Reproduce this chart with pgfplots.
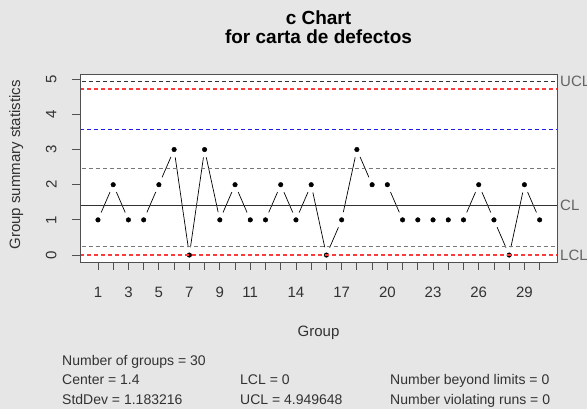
\documentclass[border=0pt]{standalone}
\usepackage{pgfplots}
\usepackage{pgfplotstable}
\pgfplotsset{compat=1.18}
\usepackage{fontspec}
\setmainfont{Liberation Sans}
\definecolor{bg}{RGB}{230,230,230}
\definecolor{boxc}{RGB}{80,80,80}
\definecolor{lblc}{RGB}{100,100,100}
\definecolor{grayl}{RGB}{120,120,120}
\definecolor{darkl}{RGB}{50,50,50}
\definecolor{redl}{RGB}{250,60,60}
\definecolor{bluel}{RGB}{30,30,230}

\pgfplotstableread{
g c
1 1
2 2
3 1
4 1
5 2
6 3
7 0
8 3
9 1
10 2
11 1
12 1
13 2
14 1
15 2
16 0
17 1
18 3
19 2
20 2
21 1
22 1
23 1
24 1
25 1
26 2
27 1
28 0
29 2
30 1
}\cdata

\pgfplotsset{overlay axis/.style={
  at={(80.3bp,147bp)}, anchor=south west,
  scale only axis, width=477bp, height=188bp,
  xmin=-0.16, xmax=31.16, ymin=-0.198, ymax=5.148, hide axis}}

\begin{document}
\begin{tikzpicture}[x=1bp,y=1bp]
\fill[bg] (0,0) rectangle (587,409);
\useasboundingbox (0,0) rectangle (587,409);
\begin{axis}[
  at={(80.3bp,147bp)}, anchor=south west,
  scale only axis, width=477bp, height=188bp,
  xmin=-0.16, xmax=31.16, ymin=-0.198, ymax=5.148,
  axis background/.style={fill=white},
  axis line style={boxc, line width=0.8bp},
  tick style={boxc, line width=0.8bp},
  xtick pos=bottom, ytick pos=left,
  tick align=outside, major tick length=8bp,
  xtick={1,...,30},
  xticklabels={1,,3,,5,,7,,9,,11,,,14,,,17,,,20,,,23,,,26,,,29,},
  ytick={0,...,5},
  /pgf/number format/assume math mode=true,
  xticklabel style={font=\fontsize{15bp}{15bp}\selectfont, text=darkl, anchor=center, yshift=-22bp},
  yticklabel style={font=\fontsize{15bp}{15bp}\selectfont, text=darkl, rotate=90, anchor=center, yshift=21bp},
]
% connecting line
\addplot[black, line width=0.7bp] table[x=g, y=c] {\cdata};
% gaps around points (as in R type="b")
\addplot[white, only marks, mark=*, mark size=7.8bp, mark options={fill=white, draw=white}] table[x=g, y=c] {\cdata};
% reference lines
\addplot[darkl, line width=0.9bp, dash pattern=on 4bp off 3bp] coordinates {(-1,4.949648) (32,4.949648)};
\addplot[grayl, line width=0.9bp, dash pattern=on 4bp off 3bp] coordinates {(-1,2.47) (32,2.47)};
\addplot[grayl, line width=0.9bp, dash pattern=on 4bp off 3bp] coordinates {(-1,0.24) (32,0.24)};
\addplot[darkl, line width=0.8bp] coordinates {(-1,1.4) (32,1.4)};
% points
\addplot[black, only marks, mark=*, mark size=2.3bp, mark options={fill=black, draw=black}] table[x=g, y=c] {\cdata};
\end{axis}
% coloured reference lines, each in its own overlay axis
\begin{axis}[overlay axis]
\addplot[redl, line width=1.1bp, dash pattern=on 4bp off 3bp] coordinates {(-0.16,4.72) (31.16,4.72)};
\end{axis}
\begin{axis}[overlay axis]
\addplot[bluel, line width=1.1bp, dash pattern=on 4bp off 3bp] coordinates {(-0.16,3.57) (31.16,3.57)};
\end{axis}
\begin{axis}[overlay axis]
\addplot[redl, line width=1.1bp, dash pattern=on 4bp off 3bp] coordinates {(-0.16,0) (31.16,0)};
\end{axis}
% plot box on top
\draw[boxc, line width=0.8bp] (80.3,147) rectangle (557.3,335);
% right labels
\begin{scope}[font=\fontsize{15bp}{15bp}\selectfont, text=lblc]
\node[anchor=west, inner sep=0] at (560,409-81) {UCL};
\node[anchor=west, inner sep=0] at (560,409-205.7) {CL};
\node[anchor=west, inner sep=0] at (560,409-255.7) {LCL};
\end{scope}
% titles
\node[anchor=base, inner sep=0, font=\bfseries\fontsize{19bp}{19bp}\selectfont] at (318.5,409-24) {c Chart};
\node[anchor=base, inner sep=0, font=\bfseries\fontsize{19bp}{19bp}\selectfont] at (318.5,409-43) {for carta de defectos};
% axis labels
\node[anchor=base, inner sep=0, font=\fontsize{15bp}{15bp}\selectfont, text=darkl] at (318.5,409-336) {Group};
\node[anchor=base, inner sep=0, rotate=90, font=\fontsize{15bp}{15bp}\selectfont, text=darkl] at (20,409-165) {Group summary statistics};
% statistics
\begin{scope}[font=\fontsize{14bp}{14bp}\selectfont, text=darkl]
\node[anchor=base west, inner sep=0] at (62,409-365) {Number of groups = 30};
\node[anchor=base west, inner sep=0] at (62,409-384.5) {Center = 1.4};
\node[anchor=base west, inner sep=0] at (62,409-404) {StdDev = 1.183216};
\node[anchor=base west, inner sep=0] at (240,409-384.5) {LCL = 0};
\node[anchor=base west, inner sep=0] at (240,409-404) {UCL = 4.949648};
\node[anchor=base west, inner sep=0] at (390,409-384.5) {Number beyond limits = 0};
\node[anchor=base west, inner sep=0] at (390,409-404) {Number violating runs = 0};
\end{scope}
\end{tikzpicture}
\end{document}
